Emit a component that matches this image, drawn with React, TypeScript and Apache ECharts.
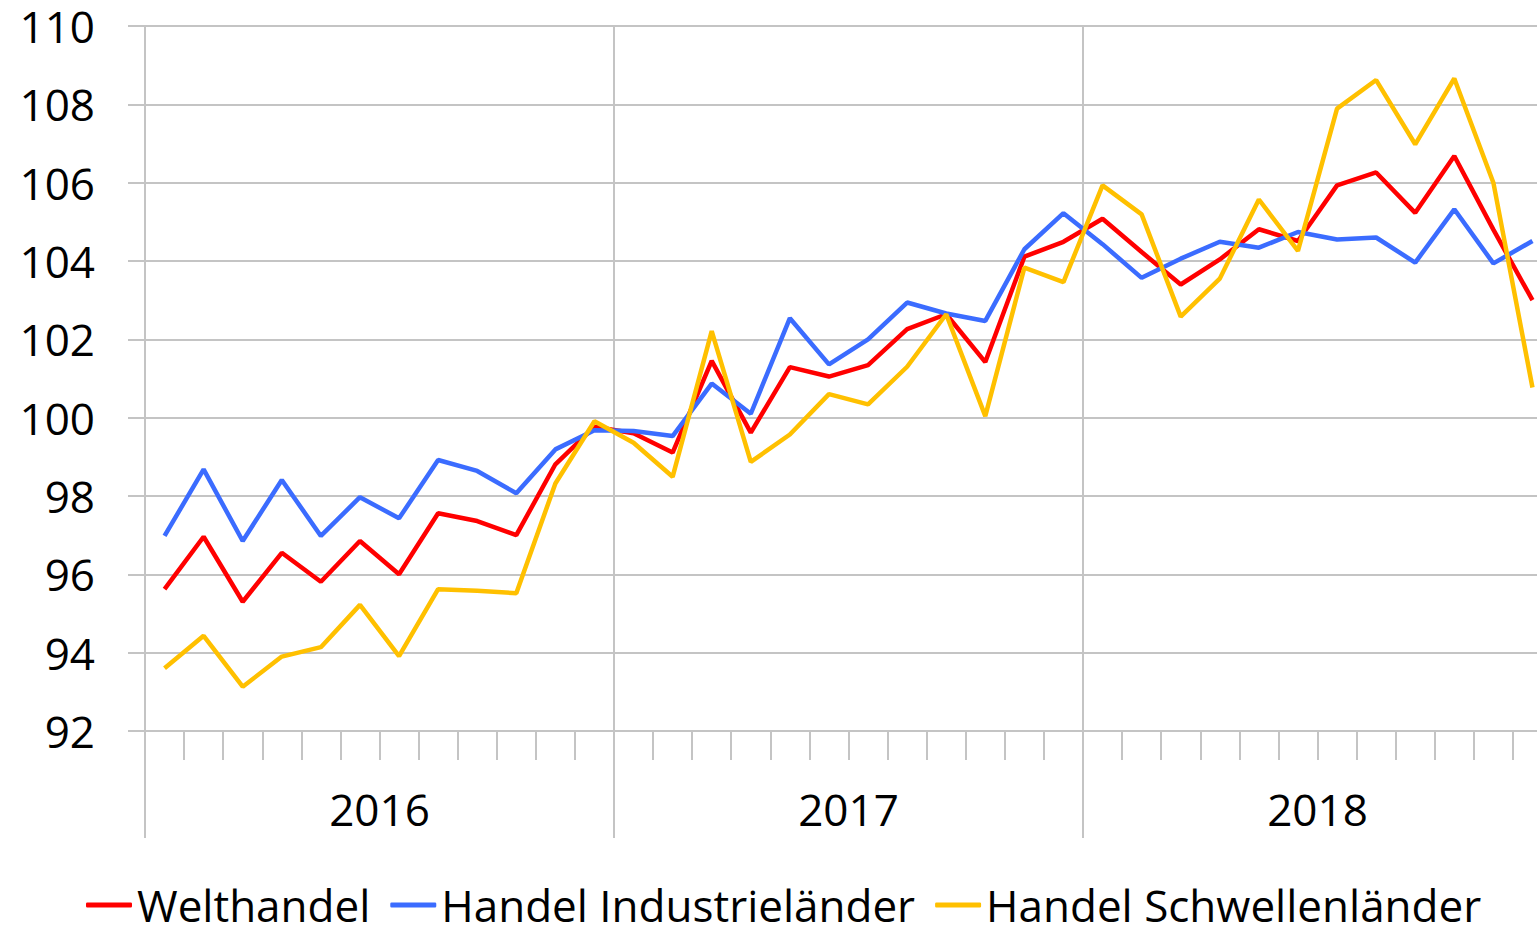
import React, { useEffect, useRef } from "react";
import * as echarts from "echarts";

const years = ["2016", "2017", "2018"];
const months = [
  "2016-01", "2016-02", "2016-03", "2016-04", "2016-05", "2016-06", "2016-07", "2016-08", "2016-09", "2016-10", "2016-11", "2016-12",
  "2017-01", "2017-02", "2017-03", "2017-04", "2017-05", "2017-06", "2017-07", "2017-08", "2017-09", "2017-10", "2017-11", "2017-12",
  "2018-01", "2018-02", "2018-03", "2018-04", "2018-05", "2018-06", "2018-07", "2018-08", "2018-09", "2018-10", "2018-11", "2018-12",
];

const welthandel = [
  95.62, 96.96, 95.3, 96.55, 95.81, 96.85, 96.0, 97.56, 97.36, 97.0, 98.81, 99.77,
  99.6, 99.11, 101.45, 99.62, 101.29, 101.05, 101.34, 102.26, 102.64, 101.42, 104.11, 104.49,
  105.08, 104.23, 103.4, 104.04, 104.81, 104.51, 105.93, 106.26, 105.23, 106.68, 104.8, 103.0,
];
const industrielaender = [
  96.98, 98.68, 96.85, 98.41, 96.98, 97.97, 97.43, 98.92, 98.64, 98.07, 99.19, 99.68,
  99.66, 99.53, 100.87, 100.1, 102.54, 101.36, 102.0, 102.94, 102.66, 102.47, 104.3, 105.22,
  104.43, 103.57, 104.06, 104.49, 104.34, 104.74, 104.55, 104.6, 103.96, 105.32, 103.94, 104.51,
];
const schwellenlaender = [
  93.6, 94.43, 93.13, 93.9, 94.14, 95.22, 93.91, 95.62, 95.58, 95.52, 98.32, 99.91,
  99.36, 98.49, 102.21, 98.87, 99.57, 100.6, 100.34, 101.3, 102.64, 100.04, 103.83, 103.46,
  105.93, 105.19, 102.58, 103.55, 105.57, 104.26, 107.89, 108.62, 106.98, 108.66, 106.0, 100.77,
];

const seriesNames = ["Welthandel", "Handel Industrieländer", "Handel Schwellenländer"];
const seriesColors = ["#ff0000", "#3b6cff", "#ffc000"];

const FONT = "'Open Sans', sans-serif";
const GRID_COLOR = "#c4c4c4";

export default function App() {
  const ref = useRef<HTMLDivElement>(null);
  useEffect(() => {
    if (!ref.current) return;
    const chart = echarts.init(ref.current, null, { renderer: "svg" });
    const dataSets = [welthandel, industrielaender, schwellenlaender];
    chart.setOption({
      animation: false,
      backgroundColor: "#ffffff",
      textStyle: { fontFamily: FONT },
      grid: { left: 145, top: 26, right: 0, bottom: 195, containLabel: false },
      legend: {
        left: 86,
        top: 883,
        padding: 0,
        icon: "roundRect",
        itemWidth: 46,
        itemHeight: 5,
        itemGap: 20,
        textStyle: { fontSize: 44, lineHeight: 44, color: "#000", fontFamily: FONT },
        data: seriesNames,
      },
      xAxis: [
        {
          type: "category",
          data: months,
          boundaryGap: true,
          position: "bottom",
          axisLine: { show: true, lineStyle: { color: GRID_COLOR, width: 2 } },
          axisTick: { show: true, interval: 0, length: 29, lineStyle: { color: GRID_COLOR, width: 2 } },
          axisLabel: { show: false },
          splitLine: { show: false },
        },
        {
          type: "category",
          data: years,
          boundaryGap: true,
          position: "bottom",
          axisLine: { show: false },
          axisTick: { show: true, interval: 0, length: 107, lineStyle: { color: GRID_COLOR, width: 2 } },
          axisLabel: { show: true, fontSize: 44, lineHeight: 44, color: "#000", margin: 56, fontFamily: FONT },
          splitLine: { show: true, interval: 0, lineStyle: { color: GRID_COLOR, width: 2 } },
        },
      ],
      yAxis: {
        type: "value",
        min: 92,
        max: 110,
        interval: 2,
        axisLine: { show: true, lineStyle: { color: GRID_COLOR, width: 2 } },
        axisTick: { show: true, length: 17, lineStyle: { color: GRID_COLOR, width: 2 } },
        axisLabel: { fontSize: 44, lineHeight: 44, color: "#000", margin: 50, fontFamily: FONT },
        splitLine: { show: true, lineStyle: { color: GRID_COLOR, width: 2 } },
      },
      series: dataSets.map((d, i) => ({
        name: seriesNames[i],
        type: "line",
        xAxisIndex: 0,
        data: d,
        showSymbol: false,
        symbol: "none",
        lineStyle: { color: seriesColors[i], width: 4.5 },
        itemStyle: { color: seriesColors[i] },
        emphasis: { disabled: true },
      })),
    });
    return () => chart.dispose();
  }, []);
  return (
    <div
      style={{ position: "fixed", left: 0, top: 0, width: 1537, height: 926, overflow: "hidden", background: "#fff" }}
    >
      <div ref={ref} style={{ width: 1552, height: 926 }} />
    </div>
  );
}
